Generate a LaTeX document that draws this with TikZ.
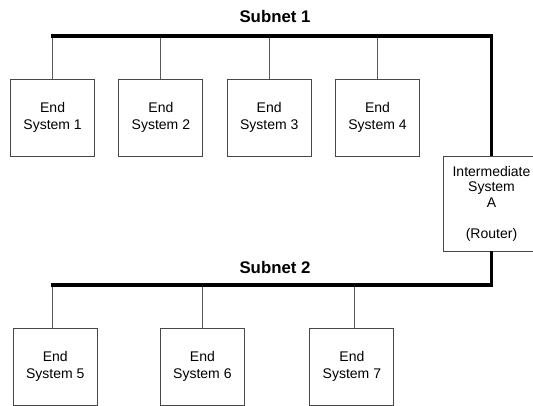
\documentclass[tikz,border=0pt]{standalone}
\usepackage{fontspec}
\setmainfont{Liberation Sans}
\begin{document}
\begin{tikzpicture}[x=1pt,y=-1pt,
  endsys/.style={draw=black!72,line width=0.9pt,minimum width=84pt,minimum height=77pt,
    inner sep=0pt,align=center,font=\fontsize{14}{16.7}\selectfont},
  router/.style={draw=black!72,line width=0.9pt,minimum width=97pt,minimum height=95pt,
    inner sep=0pt,align=center,font=\fontsize{14}{15.5}\selectfont},
  bus/.style={line width=3.6pt,black,line join=miter},
  drop/.style={line width=0.9pt,black!65},
  title/.style={font=\fontsize{16.8}{18}\selectfont\bfseries,inner sep=0pt,anchor=base}]
\clip (0,0) rectangle (533,405);
\useasboundingbox (0,0) rectangle (533,405);
\fill[white] (0,0) rectangle (533,405);

% subnet titles
\node[title] (t1) at (275,22) {Subnet 1};
\node[title] (t2) at (275,273) {Subnet 2};

% bus end points
\coordinate (b1L) at (51,35.7);
\coordinate (b1R) at (491.5,35.7);
\coordinate (b2L) at (51,285);
\coordinate (b2R) at (491.5,285);

% end systems on subnet 1
\node[endsys] (e1) at (52.6,117.5) {End\\System 1};
\node[endsys] (e2) at (160.9,117.5) {End\\System 2};
\node[endsys] (e3) at (269.2,117.5) {End\\System 3};
\node[endsys] (e4) at (377.5,117.5) {End\\System 4};

% end systems on subnet 2
\node[endsys] (e5) at (55.3,366.5) {End\\System 5};
\node[endsys] (e6) at (202.4,366.5) {End\\System 6};
\node[endsys] (e7) at (351.9,366.5) {End\\System 7};

% router between the subnets
\node[router] (ra) at (491.5,203.5) {Intermediate\\System\\A\\[15.5pt](Router)};

% drops to the buses
\foreach \n in {e1,e2,e3,e4}
  \draw[drop] (\n.north) -- (\n.north |- b1L);
\draw[drop] ([xshift=-2.6pt]e5.north) -- ([xshift=-2.6pt]e5.north |- b2L);
\draw[drop] (e6.north) -- (e6.north |- b2L);
\draw[drop] ([xshift=2.4pt]e7.north) -- ([xshift=2.4pt]e7.north |- b2L);

% buses
\draw[bus] (b1L) -- (b1R) -- (ra.north);
\draw[bus] (ra.south) -- (b2R) -- (b2L);
\end{tikzpicture}
\end{document}
